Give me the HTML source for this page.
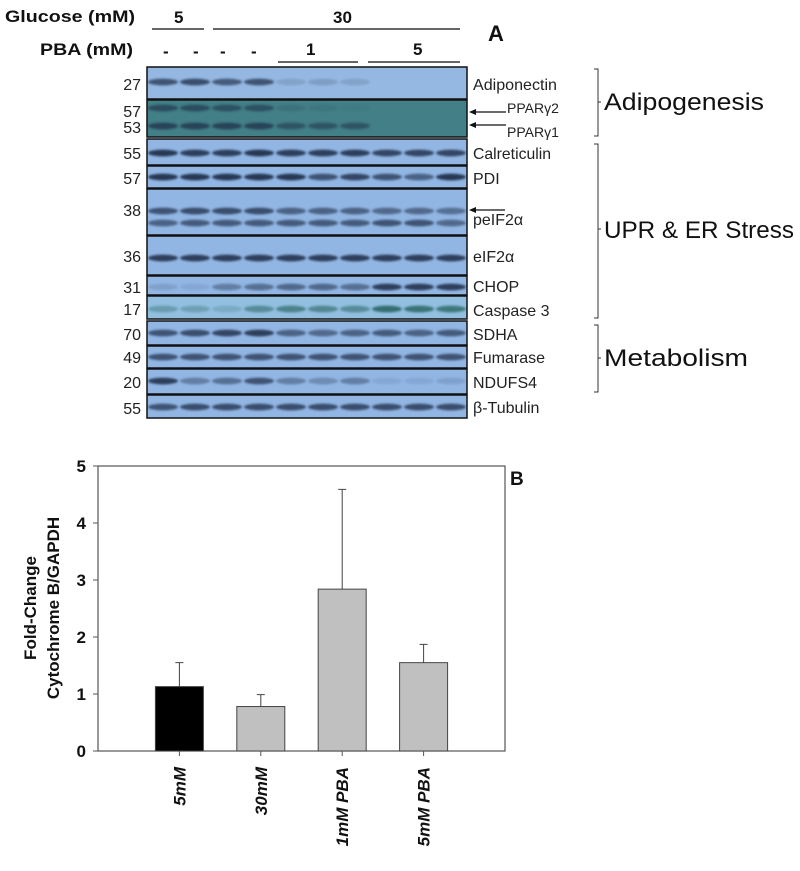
<!DOCTYPE html>
<html><head><meta charset="utf-8">
<style>
body{margin:0;background:#fff;width:800px;height:866px;overflow:hidden;font-family:"Liberation Sans",sans-serif;}
svg text{font-family:"Liberation Sans",sans-serif;}
</style></head>
<body>
<svg id="fig" width="800" height="866" viewBox="0 0 800 866">
  <defs><filter id="blur" x="-20%" y="-100%" width="140%" height="300%"><feGaussianBlur stdDeviation="1.1"/></filter></defs>
  <g font-weight="bold" font-size="17" fill="#111">
    <text x="5" y="22" textLength="130" lengthAdjust="spacingAndGlyphs">Glucose (mM)</text>
    <text x="174" y="23">5</text>
    <text x="333" y="23">30</text>
    <line x1="152" y1="29" x2="204" y2="29" stroke="#333" stroke-width="1.5"/>
    <line x1="213" y1="29" x2="460" y2="29" stroke="#333" stroke-width="1.5"/>
    <text x="40" y="55" textLength="93" lengthAdjust="spacingAndGlyphs">PBA (mM)</text>
    <text x="163" y="57">-</text><text x="193" y="57">-</text><text x="220" y="57">-</text><text x="251" y="57">-</text>
    <text x="306" y="55">1</text>
    <text x="413" y="55">5</text>
    <line x1="278" y1="62" x2="358" y2="62" stroke="#333" stroke-width="1.5"/>
    <line x1="368" y1="62" x2="460" y2="62" stroke="#333" stroke-width="1.5"/>
    <text x="488" y="41" font-size="22">A</text>
  </g>
  <g id="blot"></g>
  <g id="brackets" fill="none" stroke="#333" stroke-width="1">
    <path d="M594 69 H598 V136 H594 M598 102 H601"/>
    <path d="M594 144 H598 V318 H594 M598 229 H601"/>
    <path d="M594 325 H598 V392 H594 M598 358 H601"/>
  </g>
  <g font-size="24" fill="#111">
    <text x="604" y="110" textLength="160" lengthAdjust="spacingAndGlyphs">Adipogenesis</text>
    <text x="604" y="238" textLength="190" lengthAdjust="spacingAndGlyphs">UPR &amp; ER Stress</text>
    <text x="604" y="366" textLength="144" lengthAdjust="spacingAndGlyphs">Metabolism</text>
  </g>
  <g id="chart"></g>
</svg>
<script>
// ---------- chart data ----------
const categories = ["5mM", "30mM", "1mM PBA", "5mM PBA"];
const values = [1.13, 0.78, 2.84, 1.55];
const errors = [0.42, 0.21, 1.75, 0.32];
const yTicks = [0, 1, 2, 3, 4, 5];
const barColors = ["#000000", "#c0c0c0", "#c0c0c0", "#c0c0c0"];

const NS = "http://www.w3.org/2000/svg";
function mk(tag, attrs, parent) {
  const e = document.createElementNS(NS, tag);
  for (const k in attrs) e.setAttribute(k, attrs[k]);
  parent.appendChild(e);
  return e;
}

// ---------- blot ----------
const blot = document.getElementById('blot');
const BX0 = 147, BX1 = 467;
const panels = [
  {name:"Adiponectin", y0:67, y1:99, bg:"#95b8e2", bands:[{y:82,a:[.7,.75,.65,.7,.15,.18,.15,0,0,0]}]},
  {name:"PPARγ2 / PPARγ1", y0:100, y1:137, bg:"#427f86", bands:[{y:108,a:[.6,.6,.55,.55,.15,.1,.05,0,0,0]},{y:126,a:[.7,.7,.7,.7,.5,.5,.5,0,0,0]}]},
  {name:"Calreticulin", y0:139, y1:165, bg:"#92b6e4", bands:[{y:153,a:[.9,.85,.85,.9,.85,.85,.85,.8,.8,.8]}]},
  {name:"PDI", y0:166, y1:188, bg:"#92b6e4", bands:[{y:177,a:[.9,.9,.9,.9,.9,.7,.8,.7,.6,.9]}]},
  {name:"peIF2α", y0:189, y1:235, bg:"#92b6e4", bands:[{y:211,a:[.7,.75,.75,.75,.6,.6,.6,.55,.55,.5]},{y:223,a:[.6,.65,.65,.65,.65,.65,.65,.7,.7,.55]}]},
  {name:"eIF2α", y0:236, y1:275, bg:"#92b6e4", bands:[{y:258,a:[.85,.85,.85,.85,.85,.85,.85,.85,.85,.85]}]},
  {name:"CHOP", y0:276, y1:295, bg:"#92b6e4", bands:[{y:287,a:[.15,.1,.4,.5,.55,.55,.5,.85,.85,.85]}]},
  {name:"Caspase 3", y0:296, y1:319, bg:"#92bfe0", bands:[{y:309,a:[.35,.3,.2,.5,.6,.55,.5,.8,.75,.7]}], green:true},
  {name:"SDHA", y0:321, y1:345, bg:"#92b6e4", bands:[{y:333,a:[.7,.75,.8,.85,.6,.55,.6,.65,.6,.65]}]},
  {name:"Fumarase", y0:346, y1:368, bg:"#92b6e4", bands:[{y:357,a:[.7,.7,.7,.7,.7,.7,.7,.7,.7,.7]}]},
  {name:"NDUFS4", y0:369, y1:394, bg:"#92b6e4", bands:[{y:381,a:[.85,.4,.5,.7,.4,.3,.4,.1,.1,.15]}]},
  {name:"β-Tubulin", y0:395, y1:418, bg:"#92b6e4", bands:[{y:407,a:[.7,.75,.75,.75,.75,.75,.75,.75,.75,.75]}]}
];
panels.forEach(p => {
  const g = mk('g', {}, blot);
  
  
  mk('rect', {x:BX0, y:p.y0, width:BX1-BX0, height:p.y1-p.y0, fill:p.bg, stroke:"#111", "stroke-width":1.5}, g);
  p.bands.forEach(b => {
    b.a.forEach((a, i) => {
      if (a <= 0) return;
      const cx = 163 + i * 32;
      mk('ellipse', {cx:cx, cy:b.y, rx:15, ry:3.4, fill:p.green ? "#1f5a52" : "#1e2a44", opacity:a, filter:"url(#blur)"}, g);
    });
  });
});
const mwPos = [[27,90],[57,117],[53,133],[55,159],[57,184],[38,216],[36,262],[31,293],[17,315],[70,340],[49,363],[20,388],[55,414]];
mwPos.forEach(m => {
  const t = mk('text', {x:141, y:m[1], "text-anchor":"end", "font-size":16, fill:"#222"}, blot);
  
  
  t.textContent = m[0];
});
const protLabels = [["Adiponectin",90,84],["Calreticulin",159,78],["PDI",184,0],["peIF2α",225,0],["eIF2α",262,0],["CHOP",292,0],["Caspase 3",316,0],["SDHA",340,0],["Fumarase",363,0],["NDUFS4",388,0],["β-Tubulin",413,0]];
protLabels.forEach(l => {
  const attrs = {x:473, y:l[1], "font-size":16, fill:"#222"};
  if (l[2]) { attrs.textLength = l[2]; attrs.lengthAdjust = "spacingAndGlyphs"; }
  const t = mk('text', attrs, blot);
  
  
  t.textContent = l[0];
});
[["PPARγ2",113],["PPARγ1",137]].forEach(l => {
  const t = mk('text', {x:507, y:l[1], "font-size":14, fill:"#222"}, blot);
  
  
  t.textContent = l[0];
});
[[112,506],[125,506],[210,505]].forEach(a => {
  mk('line', {x1:472, y1:a[0], x2:a[1], y2:a[0], stroke:"#111", "stroke-width":1.2}, blot);
  mk('path', {d:`M469 ${a[0]} l7 -3 v6 z`, fill:"#111"}, blot);
});

// ---------- bar chart ----------
const chart = document.getElementById('chart');
const PX0 = 98, PX1 = 505, PY0 = 751, PY1 = 466;
const yMax = 5;
const yScale = v => PY0 - (v / yMax) * (PY0 - PY1);
const step = (PX1 - PX0) / (categories.length + 1);
const xCenter = i => PX0 + step * (i + 1);
const barW = 48;

mk('rect', {x:PX0, y:PY1, width:PX1-PX0, height:PY0-PY1, fill:"none", stroke:"#555", "stroke-width":1.2}, chart);
yTicks.forEach(t => {
  const y = yScale(t);
  mk('line', {x1:PX0-5, y1:y, x2:PX0, y2:y, stroke:"#555"}, chart);
  const tx = mk('text', {x:PX0-12, y:y+6, "text-anchor":"end", "font-size":17, "font-weight":"bold", fill:"#111"}, chart);
  
  
  tx.textContent = t;
});
categories.forEach((c, i) => {
  const cx = xCenter(i);
  const top = yScale(values[i]);
  const r = mk('rect', {x:cx-barW/2, y:top, width:barW, height:PY0-top, fill:barColors[i], stroke:"#444", "stroke-width":1}, chart);
  
  
  const et = yScale(values[i] + errors[i]);
  const e = mk('path', {d:`M${cx} ${top} V${et} M${cx-4} ${et} H${cx+4}`, stroke:"#444", "stroke-width":1, fill:"none"}, chart);
  
  
  mk('line', {x1:cx, y1:PY0, x2:cx, y2:PY0+5, stroke:"#555"}, chart);
  const lb = mk('text', {transform:`translate(${cx+6},${PY0+16}) rotate(-90)`, "text-anchor":"end", "font-size":17, "font-weight":"bold", "font-style":"italic", fill:"#111"}, chart);
  
  
  lb.textContent = c;
});
const yt = mk('text', {transform:"translate(36,608) rotate(-90)", "text-anchor":"middle", "font-size":17, "font-weight":"bold", fill:"#111"}, chart);


yt.innerHTML = '<tspan x="0" dy="0">Fold-Change</tspan><tspan x="0" dy="23">Cytochrome B/GAPDH</tspan>';
const bl = mk('text', {x:510, y:485, "font-size":19, "font-weight":"bold", fill:"#111"}, chart);


bl.textContent = 'B';
</script>
</body></html>
